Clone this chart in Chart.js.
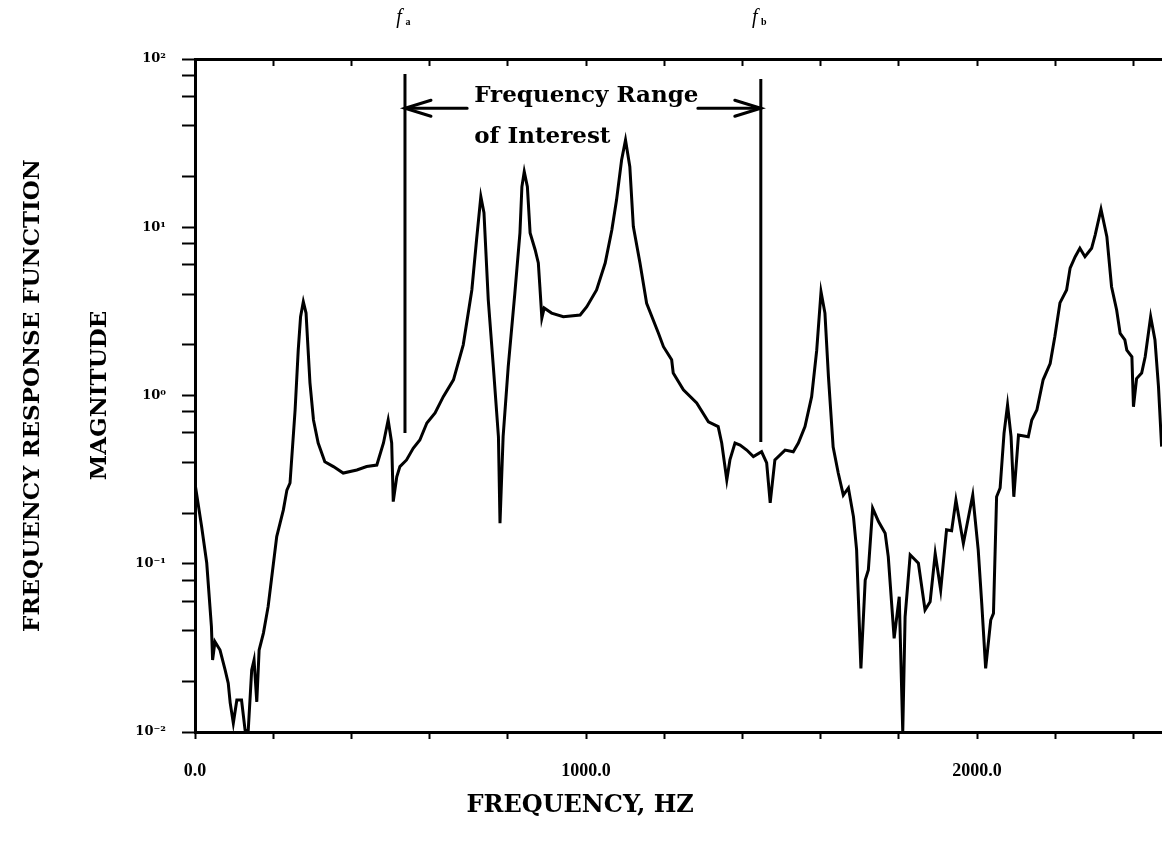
<!DOCTYPE html>
<html>
<head>
<meta charset="utf-8">
<script src="https://cdn.jsdelivr.net/npm/chart.js@4.4.1/dist/chart.umd.min.js"></script>
<style>
  html, body { margin: 0; padding: 0; background: #fff; }
  #wrap { width: 1162px; height: 843px; }
</style>
</head>
<body>
<div id="wrap"><canvas id="frfChart" width="1162" height="843"></canvas></div>
<script>
// frequency response (Hz, magnitude)
const freqHz = [
  0, 17, 30, 42, 45, 51, 64, 77, 85, 90,
  98, 107, 119, 128, 136, 145, 151, 158, 164, 175,
  187, 209, 226, 235, 243, 256, 264, 270, 277, 284,
  294, 303, 315, 332, 354, 379, 414, 439, 465, 482,
  494, 503, 507, 516, 524, 541, 558, 575, 593, 614,
  635, 661, 686, 708, 720, 731, 739, 750, 763, 776,
  780, 788, 801, 818, 831, 836, 842, 850, 857, 870,
  878, 882, 887, 893, 912, 942, 985, 1002, 1027, 1049,
  1066, 1078, 1091, 1101, 1112, 1121, 1138, 1155, 1185, 1198,
  1219, 1223, 1249, 1283, 1313, 1338, 1347, 1360, 1368, 1381,
  1394, 1411, 1428, 1449, 1462, 1471, 1483, 1509, 1530, 1543,
  1560, 1577, 1590, 1601, 1611, 1620, 1632, 1645, 1658, 1671,
  1684, 1692, 1703, 1714, 1722, 1733, 1748, 1765, 1773, 1788,
  1801, 1810, 1816, 1829, 1850, 1867, 1880, 1893, 1907, 1922,
  1935, 1946, 1965, 1989, 2003, 2012, 2022, 2035, 2042, 2050,
  2059, 2069, 2078, 2087, 2094, 2106, 2131, 2140, 2153, 2169,
  2187, 2199, 2212, 2229, 2238, 2251, 2263, 2276, 2293, 2302,
  2317, 2332, 2344, 2357, 2366, 2378, 2383, 2396, 2400, 2408,
  2421, 2430, 2444, 2455, 2464, 2472
];
const magnitude = [
  0.30, 0.166, 0.101, 0.0423, 0.0268, 0.0344, 0.0307, 0.0234, 0.0195, 0.0149,
  0.0113, 0.0155, 0.0155, 0.0103, 0.0101, 0.0234, 0.0268, 0.0151, 0.0307, 0.0387,
  0.0556, 0.145, 0.209, 0.274, 0.302, 0.820, 1.86, 2.94, 3.61, 3.09,
  1.19, 0.715, 0.522, 0.404, 0.378, 0.346, 0.361, 0.378, 0.386, 0.522,
  0.715, 0.522, 0.234, 0.329, 0.378, 0.414, 0.485, 0.544, 0.687, 0.787,
  0.984, 1.24, 2.00, 4.24, 8.40, 15.2, 12.2, 3.70, 1.48, 0.569,
  0.174, 0.569, 1.48, 4.06, 9.25, 17.4, 21.4, 17.4, 9.25, 7.33,
  6.13, 4.43, 2.89, 3.31, 3.09, 2.94, 3.01, 3.37, 4.24, 6.13,
  9.63, 14.5, 25.1, 33.0, 22.9, 10.1, 6.13, 3.53, 2.35, 1.95,
  1.63, 1.36, 1.08, 0.902, 0.698, 0.653, 0.522, 0.315, 0.414, 0.522,
  0.508, 0.474, 0.433, 0.463, 0.397, 0.230, 0.414, 0.474, 0.463, 0.522,
  0.653, 0.984, 1.86, 4.14, 3.09, 1.29, 0.494, 0.346, 0.256, 0.282,
  0.190, 0.121, 0.0239, 0.080, 0.0918, 0.214, 0.178, 0.152, 0.110, 0.0360,
  0.0637, 0.0100, 0.0484, 0.113, 0.1007, 0.0531, 0.0594, 0.115, 0.0698, 0.159,
  0.157, 0.239, 0.132, 0.256, 0.121, 0.0582, 0.0239, 0.0463, 0.0507, 0.250,
  0.282, 0.596, 0.879, 0.569, 0.25, 0.582, 0.569, 0.715, 0.820, 1.24,
  1.55, 2.24, 3.55, 4.24, 5.72, 6.68, 7.50, 6.68, 7.50, 8.99,
  12.8, 8.79, 4.43, 3.22, 2.34, 2.14, 1.86, 1.70, 0.857, 1.26,
  1.36, 1.70, 2.94, 2.14, 1.13, 0.497
];

// axes
const xMax = 2473;
const xTickValues = [0, 200, 400, 600, 800, 1000, 1200, 1400, 1600, 1800, 2000, 2200, 2400];
const xLabelValues = [0, 1000, 2000];
const xLabelText = ["0.0", "1000.0", "2000.0"];
const xTitle = "FREQUENCY, HZ";
const xTitleAt = 985;
const yTickValues = [0.01, 0.02, 0.04, 0.06, 0.08, 0.1, 0.2, 0.4, 0.6, 0.8, 1, 2, 4, 6, 8, 10, 20, 40, 60, 80, 100];
const yLabelValues = [0.01, 0.1, 1, 10, 100];
const yLabelText = ["10\u207B\u00B2", "10\u207B\u00B9", "10\u2070", "10\u00B9", "10\u00B2"];

// frequency range markers
const fA = 537;
const fB = 1447;
const fALine = [81.4, 0.598];
const fBLine = [76.1, 0.53];
const arrowY = 51;
const leftArrowTail = 696;
const rightArrowTail = 1286;
const noteX = 714;
const noteLines = ["Frequency Range", "of Interest"];
const noteY = [60.3, 34.4];

function labelFor(values, texts, v) {
    const i = values.findIndex(t => Math.abs(t - v) < 1e-9 * Math.max(1, Math.abs(t)));
    return i >= 0 ? texts[i] : "";
}

function arrowHead(ctx, tipX, y, dir) {
    ctx.beginPath();
    ctx.moveTo(tipX + dir * 26, y - 8);
    ctx.lineTo(tipX, y);
    ctx.lineTo(tipX + dir * 26, y + 8);
    ctx.stroke();
}

const annotations = {
    id: "annotations",
    afterDatasetsDraw(chart) {
        const { ctx, scales: { x, y }, chartArea } = chart;
        ctx.save();
        ctx.strokeStyle = "#000";
        ctx.fillStyle = "#000";
        ctx.lineWidth = 3;
        ctx.lineCap = "round";

        const ay = y.getPixelForValue(arrowY);
        const xa = x.getPixelForValue(fA);
        const xb = x.getPixelForValue(fB);
        ctx.beginPath();
        ctx.moveTo(x.getPixelForValue(leftArrowTail), ay);
        ctx.lineTo(xa, ay);
        ctx.moveTo(x.getPixelForValue(rightArrowTail), ay);
        ctx.lineTo(xb, ay);
        ctx.stroke();
        arrowHead(ctx, xa, ay, 1);
        arrowHead(ctx, xb, ay, -1);

        ctx.font = 'bold 23px "DejaVu Serif"';
        ctx.textAlign = "left";
        ctx.textBaseline = "middle";
        noteLines.forEach((t, i) => {
            ctx.fillText(t, x.getPixelForValue(noteX), y.getPixelForValue(noteY[i]));
        });

        // x axis title, centred under the labelled part of the axis
        ctx.font = 'bold 24px "DejaVu Serif"';
        ctx.textAlign = "center";
        ctx.fillText(xTitle, x.getPixelForValue(xTitleAt), chartArea.bottom + 74);

        // f_a / f_b labels above the frame
        const ly = chartArea.top - 41;
        [[xa, "a"], [xb, "b"]].forEach(([px, sub]) => {
            ctx.font = 'italic 20px "Liberation Serif"';
            ctx.textAlign = "center";
            ctx.fillText("f", px - 6, ly);
            ctx.font = 'bold 10px "Liberation Serif"';
            ctx.fillText(sub, px + 3, ly + 4);
        });
        ctx.restore();
    }
};

const canvas = document.getElementById("frfChart");
const black = "#000";

new Chart(canvas, {
    type: "line",
    data: {
        datasets: [
            {
                data: freqHz.map((f, i) => ({ x: f, y: magnitude[i] })),
                borderColor: black,
                borderWidth: 3,
                pointRadius: 0,
                tension: 0,
                fill: false
            },
            {
                data: [{ x: fA, y: fALine[0] }, { x: fA, y: fALine[1] }],
                borderColor: black,
                borderWidth: 3,
                pointRadius: 0
            },
            {
                data: [{ x: fB, y: fBLine[0] }, { x: fB, y: fBLine[1] }],
                borderColor: black,
                borderWidth: 3,
                pointRadius: 0
            }
        ]
    },
    options: {
        responsive: false,
        animation: false,
        layout: { padding: 0 },
        plugins: {
            legend: { display: false },
            tooltip: { enabled: false }
        },
        scales: {
            x: {
                type: "linear",
                position: "bottom",
                min: 0,
                max: xMax,
                afterFit: s => { s.height = 111; },
                afterBuildTicks: s => { s.ticks = xTickValues.map(v => ({ value: v })); },
                ticks: {
                    autoSkip: false,
                    maxRotation: 0,
                    padding: 22,
                    color: black,
                    font: { family: "Liberation Serif", size: 18, weight: "bold" },
                    callback: v => labelFor(xLabelValues, xLabelText, v)
                },
                grid: { drawOnChartArea: false, tickLength: 7, tickWidth: 2, tickColor: black },
                border: { color: black, width: 3 }
            },
            xTop: {
                type: "linear",
                position: "top",
                min: 0,
                max: xMax,
                afterFit: s => { s.height = 59; },
                afterBuildTicks: s => { s.ticks = xTickValues.map(v => ({ value: v })); },
                ticks: { display: false },
                grid: { drawOnChartArea: false, tickLength: -7, tickWidth: 2, tickColor: black },
                border: { color: black, width: 3 }
            },
            y: {
                type: "logarithmic",
                min: 0.01,
                max: 100,
                afterFit: s => { s.width = 195; },
                afterBuildTicks: s => { s.ticks = yTickValues.map(v => ({ value: v })); },
                ticks: {
                    autoSkip: false,
                    padding: 16,
                    color: black,
                    font: { family: "DejaVu Serif", size: 13, weight: "bold" },
                    callback: v => labelFor(yLabelValues, yLabelText, v)
                },
                grid: { drawOnChartArea: false, tickLength: 13, tickWidth: 2, tickColor: black },
                border: { color: black, width: 3 },
                title: {
                    display: true,
                    text: ["FREQUENCY RESPONSE FUNCTION", "MAGNITUDE"],
                    color: black,
                    font: { family: "DejaVu Serif", size: 23, weight: "bold", lineHeight: "67px" },
                    padding: 0
                }
            }
        }
    },
    plugins: [annotations]
});
</script>
</body>
</html>
